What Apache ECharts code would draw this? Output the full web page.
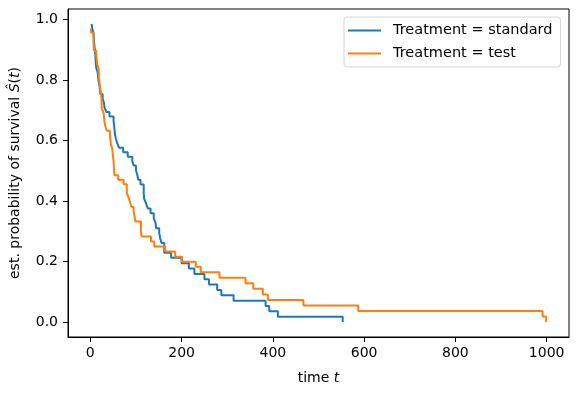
<!DOCTYPE html>
<html>
<head>
<meta charset="utf-8">
<script src="https://cdn.jsdelivr.net/npm/echarts@6/dist/echarts.min.js"></script>
<style>html,body{margin:0;padding:0;background:#fff}#c{width:577px;height:393px}</style>
</head>
<body>
<div id="c"></div>
<script>
const stdTime = [3,4,7,8,10,11,12,13,16,18,20,21,22,25,27,30,31,35,42,51,52,54,56,59,63,72,82,92,95,97,100,103,105,110,117,118,122,123,126,132,139,143,144,151,153,156,162,177,182,200,216,228,250,260,278,287,314,384,392,411,553];
const stdSurv = [0.9855,0.9710,0.9565,0.9275,0.8986,0.8841,0.8551,0.8406,0.8261,0.7971,0.7826,0.7681,0.7536,0.7536,0.7388,0.7241,0.7093,0.6945,0.6797,0.6650,0.6502,0.6206,0.6059,0.5911,0.5763,0.5615,0.5467,0.5320,0.5172,0.5172,0.5020,0.4863,0.4706,0.4549,0.4235,0.4079,0.3922,0.3922,0.3758,0.3595,0.3432,0.3268,0.3105,0.2941,0.2778,0.2614,0.2288,0.2124,0.2124,0.1947,0.1770,0.1593,0.1416,0.1239,0.1062,0.0885,0.0708,0.0531,0.0354,0.0177,0.0];
const testTime = [1,2,7,8,13,15,18,19,20,21,24,25,29,30,31,33,36,43,44,45,48,49,51,52,53,61,73,80,83,84,87,90,95,99,103,111,112,133,140,164,186,201,231,242,283,340,357,378,389,467,587,991,999];
const testSurv = [0.9706,0.9559,0.9265,0.8971,0.8824,0.8529,0.8382,0.8088,0.7941,0.7794,0.7500,0.7059,0.6912,0.6765,0.6618,0.6471,0.6324,0.6176,0.6029,0.5882,0.5735,0.5588,0.5294,0.5000,0.4853,0.4706,0.4559,0.4265,0.4265,0.4112,0.3960,0.3802,0.3643,0.3326,0.3326,0.2994,0.2828,0.2661,0.2495,0.2329,0.2162,0.1996,0.1830,0.1647,0.1464,0.1281,0.1098,0.0915,0.0732,0.0549,0.0366,0.0183,0.0];
const xTicks = [0,200,400,600,800,1000];
const xTickLabels = ['0','200','400','600','800','1000'];
const yTicks = [0,0.2,0.4,0.6,0.8,1.0];
const yTickLabels = ['0.0','0.2','0.4','0.6','0.8','1.0'];
const seriesNames = ['Treatment = standard','Treatment = test'];

const FONT = 'DejaVu Sans';
const chart = echarts.init(document.getElementById('c'), null, {renderer:'canvas'});
function lbl(ticks, labels){ return v => { let i = ticks.findIndex(t => Math.abs(t - v) < 1e-9); return i >= 0 ? labels[i] : ''; }; }
chart.setOption({
  animation:false,
  backgroundColor:'#fff',
  textStyle:{fontFamily:FONT},
  grid:{left:67, top:9, right:8, bottom:56, show:true, borderColor:'#000', borderWidth:1, backgroundColor:'transparent'},
  legend:{
    orient:'vertical', left:344, top:17, width:215,
    padding:[6,8,6,4], itemGap:8, itemWidth:33, itemHeight:2, icon:'rect',
    backgroundColor:'rgba(255,255,255,0.8)', borderColor:'#d6d6d6', borderWidth:1, borderRadius:3,
    textStyle:{fontFamily:FONT, fontSize:14.5, color:'#000', lineHeight:14, padding:[0,0,0,7]},
    data:seriesNames
  },
  xAxis:{
    type:'value', min:-48.9, max:1048.9,
    name:'{n|time }{i|t}', nameLocation:'middle', nameGap:34,
    nameTextStyle:{rich:{n:{fontFamily:FONT,fontSize:14,color:'#000'}, i:{fontFamily:FONT,fontSize:14,fontStyle:'italic',color:'#000'}}},
    axisLine:{show:true, onZero:false, lineStyle:{color:'#000', width:1}},
    axisTick:{show:true, length:5, lineStyle:{color:'#000', width:1}, customValues:xTicks},
    axisLabel:{color:'#000', fontFamily:FONT, fontSize:14, margin:9, customValues:xTicks, formatter:lbl(xTicks,xTickLabels)},
    splitLine:{show:false}
  },
  yAxis:{
    type:'value', min:-0.0493, max:1.0348,
    name:'{n|est. probability of survival }{i|Ŝ}{n|(}{i|t}{n|)}', nameLocation:'middle', nameGap:46, nameRotate:90,
    nameTextStyle:{rich:{n:{fontFamily:FONT,fontSize:14,color:'#000'}, i:{fontFamily:FONT,fontSize:14,fontStyle:'italic',color:'#000'}}},
    axisLine:{show:true, onZero:false, lineStyle:{color:'#000', width:1}},
    axisTick:{show:true, length:5, lineStyle:{color:'#000', width:1}, customValues:yTicks},
    axisLabel:{color:'#000', fontFamily:FONT, fontSize:14, margin:10, customValues:yTicks, formatter:lbl(yTicks,yTickLabels)},
    splitLine:{show:false}
  },
  series:[
    {name:seriesNames[0], type:'line', step:'end', showSymbol:false, symbol:'none', color:'#1f77b4',
     lineStyle:{width:2, color:'#1f77b4'}, data:stdTime.map((t,i)=>[t,stdSurv[i]])},
    {name:seriesNames[1], type:'line', step:'end', showSymbol:false, symbol:'none', color:'#ff7f0e',
     lineStyle:{width:2, color:'#ff7f0e'}, data:testTime.map((t,i)=>[t,testSurv[i]])}
  ]
});
</script>
</body>
</html>
